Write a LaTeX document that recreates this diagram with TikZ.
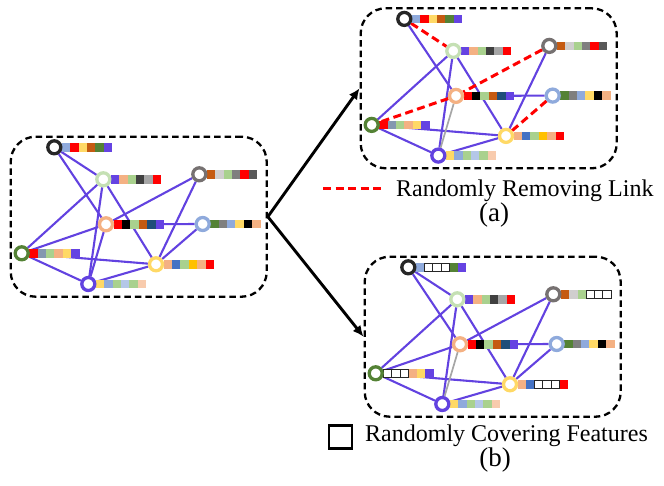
\documentclass[tikz,border=0pt]{standalone}
\usepackage{fontspec}
\setmainfont{Liberation Serif}
\usetikzlibrary{arrows.meta,backgrounds}
% ring colours of the nodes
\definecolor{nBlack}{RGB}{38,38,38}
\definecolor{nLgreen}{RGB}{197,224,180}
\definecolor{nDgray}{RGB}{118,113,113}
\definecolor{nPeach}{RGB}{244,177,131}
\definecolor{nLblue}{RGB}{143,170,220}
\definecolor{nGreen}{RGB}{84,130,53}
\definecolor{nYellow}{RGB}{255,217,102}
\definecolor{nPurple}{RGB}{98,66,224}
% feature cell colours
\definecolor{fLblue}{RGB}{143,170,220}
\definecolor{fRed}{RGB}{255,0,0}
\definecolor{fYellow}{RGB}{255,217,102}
\definecolor{fBrown}{RGB}{197,90,17}
\definecolor{fGreen}{RGB}{84,130,53}
\definecolor{fPurple}{RGB}{101,67,226}
\definecolor{fPeach}{RGB}{244,177,131}
\definecolor{fLgreen}{RGB}{169,209,142}
\definecolor{fDgray}{RGB}{64,64,64}
\definecolor{fGray}{RGB}{166,166,166}
\definecolor{fLgray}{RGB}{208,206,206}
\definecolor{fMgray}{RGB}{127,127,127}
\definecolor{fSlate}{RGB}{89,89,89}
\definecolor{fBlack}{RGB}{0,0,0}
\definecolor{fNavy}{RGB}{31,78,121}
\definecolor{fBgray}{RGB}{132,151,176}
\definecolor{fBlue}{RGB}{68,114,196}
\definecolor{fGold}{RGB}{255,192,0}
\definecolor{fPblue}{RGB}{180,199,231}
\definecolor{fPpeach}{RGB}{248,203,173}
\definecolor{edgeline}{RGB}{98,66,224}

% the eight nodes of one graph, names prefixed by #1
\newcommand{\graphnodes}[1]{%
  \node[gbox] (#1-box) at (138.7,216.7) {};
  \node[gnode, draw=nBlack] (#1-k) at (54.3,147.3) {};
  \node[gnode, draw=nLgreen] (#1-lg) at (103.3,179.3) {};
  \node[gnode, draw=nDgray] (#1-dg) at (199.3,174.3) {};
  \node[gnode, draw=nPeach] (#1-pe) at (106,224.3) {};
  \node[gnode, draw=nLblue] (#1-lb) at (202.7,224) {};
  \node[gnode, draw=nGreen] (#1-gr) at (21.7,253.3) {};
  \node[gnode, draw=nYellow] (#1-ye) at (156,264.3) {};
  \node[gnode, draw=nPurple] (#1-pu) at (88.3,284) {};
}
\newcommand{\featbar}[2]{%
  \foreach \c [count=\i from 0] in {#2}
    \fill[\c] (#1) ++(7.5+8.4*\i,-4.3) rectangle ++(8.4,8.6);
}
\newcommand{\coverbar}[2]{%
  \foreach \i in {#2}
    \filldraw[cover] (#1) ++(7.5+8.4*\i,-4.3) rectangle ++(8.4,8.6);
}
\newcommand{\graphbars}[1]{%
  \featbar{#1-k}{fLblue,fRed,fYellow,fBrown,fGreen,fPurple}
  \featbar{#1-lg}{fPurple,fPeach,fLgreen,fDgray,fGray,fRed}
  \featbar{#1-dg}{fBrown,fLgray,fLgreen,fMgray,fRed,fSlate}
  \featbar{#1-pe}{fRed,fBlack,fLgreen,fBrown,fNavy,fPurple}
  \featbar{#1-lb}{fGreen,fMgray,fLblue,fYellow,fBlack,fPeach}
  \featbar{#1-gr}{fRed,fBgray,fLgreen,fPeach,fYellow,fPurple}
  \featbar{#1-ye}{fPeach,fBlue,fLgreen,fGold,fPeach,fRed}
  \featbar{#1-pu}{fYellow,fLblue,fLgreen,fPblue,fLgreen,fPpeach}
}

\begin{document}
\begin{tikzpicture}[
  x=1pt, y=-1pt,
  gnode/.style={circle, fill=white, line width=3.3pt, minimum size=13pt, inner sep=0pt},
  gbox/.style={draw, line width=2.3pt, dash pattern=on 6.5pt off 4pt,
               rounded corners=25pt, minimum width=256pt, minimum height=160pt},
  edge/.style={line width=2.1pt, draw=edgeline},
  weakedge/.style={line width=1.7pt, draw=black!35},
  cutedge/.style={line width=3pt, draw=red, dash pattern=on 8pt off 4.5pt},
  cover/.style={fill=white, draw=black!85, line width=0.9pt},
  bigarrow/.style={-{Latex[length=11pt,width=10pt]}, line width=2.9pt},
  lbl/.style={inner sep=0pt, font=\fontsize{24}{28}\selectfont}
]
\useasboundingbox (0,0) rectangle (664,485);

% original graph
\graphnodes{L}
\begin{scope}[on background layer]
\foreach \a/\b in {k/lg, k/pe, lg/gr, lg/pu, lg/ye, dg/pe, dg/ye, pe/gr, pe/pu, pe/lb, lb/ye, gr/ye, gr/pu, pu/ye}
  \draw[edge] (L-\a) -- (L-\b);
\graphbars{L}
\end{scope}

% (a) link removal
\begin{scope}[shift={(350,-128.4)}]
\graphnodes{A}
\end{scope}
\begin{scope}[on background layer]
\foreach \a/\b in {k/pe, lg/gr, lg/pu, lg/ye, dg/ye, pe/lb, gr/ye, gr/pu, pu/ye}
  \draw[edge] (A-\a) -- (A-\b);
\draw[weakedge] (A-pe) -- (A-pu);
\foreach \a/\b in {k/lg, dg/pe, pe/gr, lb/ye}
  \draw[cutedge] (A-\a) -- (A-\b);
\graphbars{A}
\end{scope}

% (b) feature covering
\begin{scope}[shift={(354,120)}]
\graphnodes{B}
\end{scope}
\begin{scope}[on background layer]
\foreach \a/\b in {k/lg, k/pe, lg/gr, lg/pu, lg/ye, dg/pe, dg/ye, pe/gr, pe/lb, lb/ye, gr/ye, gr/pu, pu/ye}
  \draw[edge] (B-\a) -- (B-\b);
\draw[weakedge] (B-pe) -- (B-pu);
\graphbars{B}
\coverbar{B-k}{1,2,3}
\coverbar{B-dg}{3,4,5}
\coverbar{B-gr}{0,1,2}
\coverbar{B-ye}{2,3,4}
\end{scope}

\draw[bigarrow] (L-box.east) -- (A-box.west);
\draw[bigarrow] (L-box.east) -- (B-box.west);

% legends
\coordinate (rm-a) at (323,188);
\coordinate (rm-b) at (384,188);
\draw[cutedge] (rm-a) -- (rm-b);
\node[lbl, anchor=base west] (rm-text) at (396,196.7) {Randomly Removing Link};
\node[lbl, font=\fontsize{27}{30}\selectfont] (cap-a) at (494,215) {(a)};

\node[draw, line width=2.6pt, minimum size=23pt, inner sep=0pt] (cv-box) at (340.3,437.2) {};
\node[lbl, anchor=base west] (cv-text) at (365,441.7) {Randomly Covering Features};
\node[lbl, font=\fontsize{27}{30}\selectfont] (cap-b) at (495,460) {(b)};
\end{tikzpicture}
\end{document}
